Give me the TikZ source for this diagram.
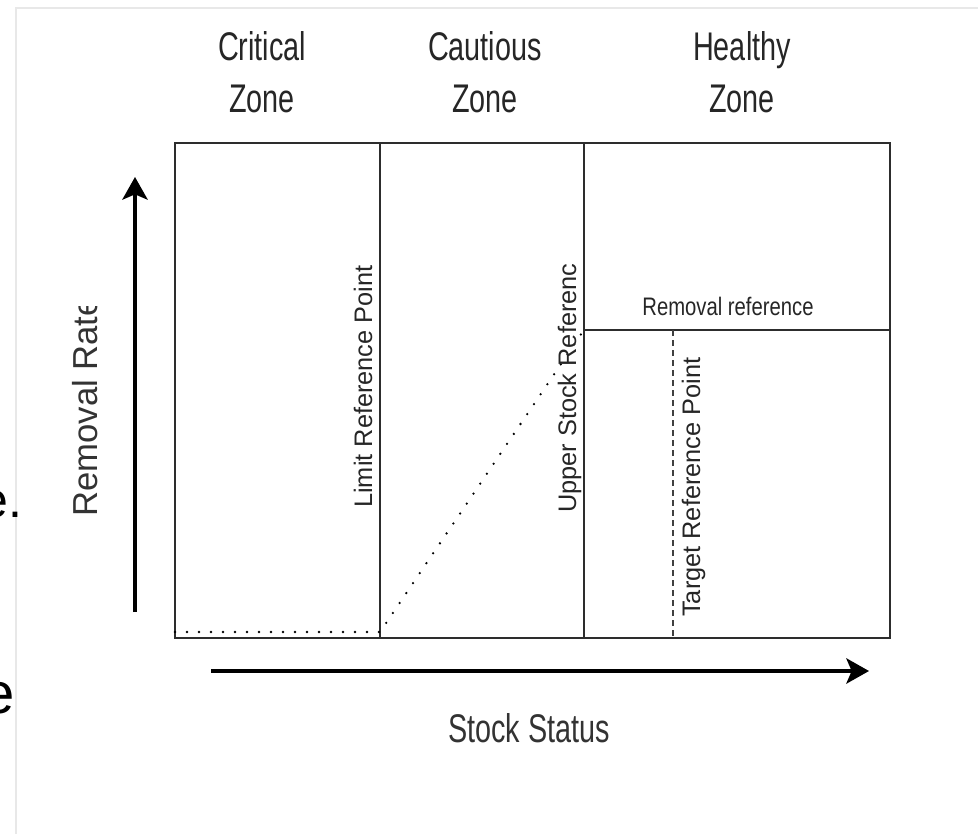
\documentclass[tikz,border=0pt]{standalone}
\usepackage{fontspec}
\setmainfont{Liberation Sans}
\newfontfamily\zonefont[FakeStretch=0.72]{Liberation Sans}
\newfontfamily\narrowfont[FakeStretch=0.8]{Liberation Sans}
\usetikzlibrary{arrows.meta}
\definecolor{framegray}{RGB}{232,232,232}
\definecolor{linegray}{RGB}{45,45,45}
\newcommand{\zonehead}[3]{\node[zonetext] (#1) at (#2,72) {#3\\Zone};}
\newcommand{\refmark}[4]{\node[reftext] (#1) at (#2,#3) {#4};}

\begin{document}
\begin{tikzpicture}[x=0.75pt, y=-0.75pt,
    zonetext/.style={font=\zonefont\fontsize{30}{39}\selectfont, align=center, inner sep=0pt, text=black!85},
    reftext/.style={font=\fontsize{19}{22}\selectfont, rotate=90, anchor=base west, inner sep=0pt, text=black!85},
    axistext/.style={inner sep=0pt, text=black!80},
    fragtext/.style={anchor=base east, inner sep=0pt},
    boxline/.style={draw=linegray, line width=1.5pt},
    divline/.style={draw=linegray, line width=1.1pt},
    dotline/.style={draw=black, line width=1.9pt, dash pattern=on 0pt off 9pt, line cap=round},
    dashline/.style={draw=black!75, line width=1.1pt, dash pattern=on 4.5pt off 3pt},
    axisarrow/.style={draw=black, line width=2.6pt, -{Stealth[length=17pt, width=19pt, inset=4pt]}}]
    \useasboundingbox (0,0) rectangle (978,834);
    \clip (0,0) rectangle (978,834);

    % slide frame and cut-off text
    \draw[framegray, line width=1.5pt] (16,834) -- (16,8) -- (978,8);
    \node[fragtext, font=\fontsize{37.5}{40}\selectfont] (frag1) at (22.5,517) {e.};
    \node[fragtext, font=\fontsize{43.5}{46}\selectfont] (frag2) at (15.5,713) {e};

    % box corners and reference points
    \coordinate (nw) at (175,143);
    \coordinate (se) at (890,638);
    \coordinate (lrp-top) at (380,143);
    \coordinate (lrp-bot) at (380,638);
    \coordinate (usr-top) at (584,143);
    \coordinate (usr-bot) at (584,638);
    \coordinate (rem-w) at (584,330);
    \coordinate (rem-e) at (890,330);
    \coordinate (trp-top) at (673,330);
    \coordinate (trp-bot) at (673,638);
    \coordinate (floor-w) at (175,632);
    \coordinate (floor-e) at (380,632);

    % zones
    \zonehead{critical}{262}{Critical}
    \zonehead{cautious}{485}{Cautious}
    \zonehead{healthy}{742}{Healthy}

    % chart box
    \draw[boxline] (nw) rectangle (se);
    \draw[divline] (lrp-top) -- (lrp-bot);
    \draw[divline] (usr-top) -- (usr-bot);
    \draw[boxline] (rem-w) -- (rem-e);
    \draw[dashline] (trp-top) -- (trp-bot);
    \draw[dotline] (floor-w) -- (floor-e) -- (rem-w);

    % reference labels
    \refmark{limit}{372}{508}{Limit Reference Point}
    \refmark{upper}{576}{513}{Upper Stock Referenc}
    \refmark{target}{700}{617}{Target Reference Point}
    \node[font=\narrowfont\fontsize{19}{22}\selectfont, inner sep=0pt, text=black!85] (removal) at (728,306) {Removal reference};

    % axes
    \coordinate (yaxis-start) at (135,612);
    \coordinate (yaxis-end) at (135,177);
    \coordinate (xaxis-start) at (211,671);
    \coordinate (xaxis-end) at (869,671);
    \draw[axisarrow] (yaxis-start) -- (yaxis-end);
    \draw[axisarrow] (xaxis-start) -- (xaxis-end);
    \node[axistext, font=\zonefont\fontsize{30}{36}\selectfont, anchor=base] (stock) at (529,742) {Stock Status};
    \begin{scope}
        \clip (50,307) rectangle (120,540);
        \node[axistext, font=\fontsize{26}{30}\selectfont, rotate=90, anchor=base west] (rate) at (97,517) {Removal Rate};
    \end{scope}
\end{tikzpicture}
\end{document}
